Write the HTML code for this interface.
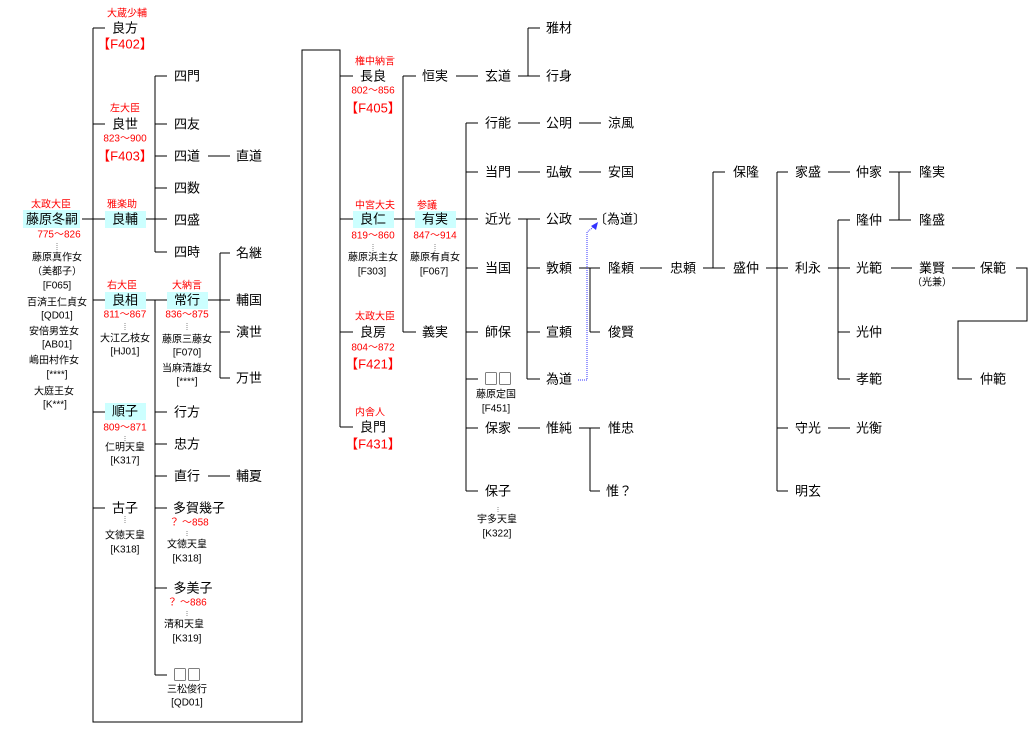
<!DOCTYPE html>
<html><head><meta charset="utf-8"><style>
html,body{margin:0;padding:0;background:#fff;}
svg{display:block;}
text{font-family:"Liberation Sans","Noto Sans CJK JP",sans-serif;text-anchor:middle;dominant-baseline:central;}
.n{font-size:13px;fill:#000;}
.r{font-size:10px;fill:#f00;}
.f{font-size:13px;fill:#f00;}
.s{font-size:10px;fill:#000;}
.b{font-family:"Noto Sans CJK JP",sans-serif;font-size:14px;fill:#000;}
</style></head><body>
<svg width="1030" height="749" viewBox="0 0 1030 749" xmlns="http://www.w3.org/2000/svg">
<g fill="#ccffff">
<rect x="23" y="210" width="57" height="18"/>
<rect x="105" y="211" width="41" height="17"/>
<rect x="105" y="292" width="41" height="17"/>
<rect x="167" y="292" width="41" height="17"/>
<rect x="105" y="403" width="41" height="17"/>
<rect x="353" y="211" width="41" height="17"/>
<rect x="415" y="211" width="41" height="17"/>
</g>
<g stroke="#000" stroke-width="1.2" fill="none" shape-rendering="crispEdges">
<path d="M93,28V722H302V50H340V427"/>
<path d="M82,219H105M93,28H105M93,124H105M93,300H105M93,412H105M93,508H105"/>
<path d="M146,219H167M155,76V252M155,76H167M155,124H167M155,156H167M155,188H167M155,252H167"/>
<path d="M208,156H230"/>
<path d="M146,300H167M155,300V675M155,412H167M155,444H167M155,476H167M155,508H167M155,588H167M155,675H167"/>
<path d="M208,300H230M220,253V378M220,253H230M220,332H230M220,378H230"/>
<path d="M208,476H230"/>
<path d="M340,76H353M340,219H353M340,332H353M340,427H353"/>
<path d="M394,219H415M456,219H466M466,123V491M466,123H478M466,172H478M466,219H478M466,268H478M466,332H478M466,379H478M466,428H478M466,491H478"/>
<path d="M403,76V332M403,76H416M403,332H416"/>
<path d="M456,76H478M518,76H540M528,28V76M528,28H540"/>
<path d="M518,123H540M579,123H601M518,172H540M579,172H601"/>
<path d="M518,219H540M527,219V379M527,268H540M527,332H540M527,379H540M579,219H597"/>
<path d="M579,268H600M590,268V332M590,332H600"/>
<path d="M640,268H662M703,268H725M713,172V268M713,172H725"/>
<path d="M766,268H788M777,172V491M777,172H788M777,428H788M777,491H788"/>
<path d="M828,172H850M889,172H899M899,172V220M899,172H911M899,220H911M889,220H899"/>
<path d="M828,268H850M838,220V379M838,220H850M838,332H850M838,379H850"/>
<path d="M891,268H912M952,268H975M1016,268H1027V321H958V379H972"/>
<path d="M828,428H850M518,428H540M579,428H600M590,428V491M590,491H600"/>
</g>
<path d="M578,380H587V232L595,226" stroke="#33f" stroke-width="1" stroke-dasharray="1,1" fill="none"/>
<polygon points="598,222 591,226 596,230" fill="#33f"/>
<g stroke="#888" stroke-width="1" stroke-dasharray="1,1">
<path d="M57,243V250M125,323V330M187,323V330M125,436V441M125,516V524M187,531V537M187,611V617M373,244V251M435,244V251M498,507V513"/>
</g>
<text class="r" x="51" y="205">太政大臣</text>
<text class="n" x="52" y="219">藤原冬嗣</text>
<text class="r" x="59" y="235">775～826</text>
<text class="s" x="57" y="258">藤原真作女</text>
<text class="s" x="57" y="272">（美都子）</text>
<text class="s" x="57" y="286">[F065]</text>
<text class="s" x="57" y="303">百済王仁貞女</text>
<text class="s" x="57" y="316">[QD01]</text>
<text class="s" x="54" y="332">安倍男笠女</text>
<text class="s" x="57" y="345">[AB01]</text>
<text class="s" x="54" y="361">嶋田村作女</text>
<text class="s" x="57" y="375">[****]</text>
<text class="s" x="54" y="392">大庭王女</text>
<text class="s" x="55" y="405">[K***]</text>
<text class="r" x="127" y="14">大蔵少輔</text>
<text class="n" x="125" y="28">良方</text>
<text class="f" x="125" y="44">【F402】</text>
<text class="r" x="125" y="109">左大臣</text>
<text class="n" x="125" y="124">良世</text>
<text class="r" x="125" y="139">823～900</text>
<text class="f" x="125" y="156">【F403】</text>
<text class="r" x="122" y="205">雅楽助</text>
<text class="n" x="125" y="219">良輔</text>
<text class="r" x="122" y="286">右大臣</text>
<text class="n" x="125" y="300">良相</text>
<text class="r" x="125" y="315">811～867</text>
<text class="s" x="125" y="339">大江乙枝女</text>
<text class="s" x="125" y="352">[HJ01]</text>
<text class="n" x="125" y="411">順子</text>
<text class="r" x="125" y="428">809～871</text>
<text class="s" x="125" y="448">仁明天皇</text>
<text class="s" x="125" y="461">[K317]</text>
<text class="n" x="125" y="508">古子</text>
<text class="s" x="125" y="536">文徳天皇</text>
<text class="s" x="125" y="550">[K318]</text>
<text class="n" x="187" y="76">四門</text>
<text class="n" x="187" y="124">四友</text>
<text class="n" x="187" y="156">四道</text>
<text class="n" x="187" y="188">四数</text>
<text class="n" x="187" y="220">四盛</text>
<text class="n" x="187" y="252">四時</text>
<text class="n" x="249" y="156">直道</text>
<text class="r" x="187" y="286">大納言</text>
<text class="n" x="187" y="300">常行</text>
<text class="r" x="187" y="315">836～875</text>
<text class="s" x="187" y="340">藤原三藤女</text>
<text class="s" x="187" y="353">[F070]</text>
<text class="s" x="187" y="369">当麻清雄女</text>
<text class="s" x="187" y="382">[****]</text>
<text class="n" x="249" y="253">名継</text>
<text class="n" x="249" y="300">輔国</text>
<text class="n" x="249" y="332">演世</text>
<text class="n" x="249" y="378">万世</text>
<text class="n" x="187" y="412">行方</text>
<text class="n" x="187" y="444">忠方</text>
<text class="n" x="187" y="476">直行</text>
<text class="n" x="249" y="476">輔夏</text>
<text class="n" x="199" y="508">多賀幾子</text>
<text class="r" x="189" y="523">？ ～858</text>
<text class="s" x="187" y="545">文徳天皇</text>
<text class="s" x="187" y="559">[K318]</text>
<text class="n" x="193" y="588">多美子</text>
<text class="r" x="187" y="603">？ ～886</text>
<text class="s" x="184" y="625">清和天皇</text>
<text class="s" x="187" y="639">[K319]</text>
<text class="b" x="187" y="675">□□</text>
<text class="s" x="187" y="690">三松俊行</text>
<text class="s" x="187" y="703">[QD01]</text>
<text class="r" x="375" y="62">権中納言</text>
<text class="n" x="373" y="76">長良</text>
<text class="r" x="373" y="91">802～856</text>
<text class="f" x="373" y="108">【F405】</text>
<text class="r" x="375" y="206">中宮大夫</text>
<text class="n" x="373" y="219">良仁</text>
<text class="r" x="373" y="236">819～860</text>
<text class="s" x="373" y="258">藤原浜主女</text>
<text class="s" x="372" y="272">[F303]</text>
<text class="r" x="375" y="317">太政大臣</text>
<text class="n" x="373" y="332">良房</text>
<text class="r" x="373" y="348">804～872</text>
<text class="f" x="373" y="364">【F421】</text>
<text class="r" x="370" y="413">内舎人</text>
<text class="n" x="373" y="427">良門</text>
<text class="f" x="373" y="444">【F431】</text>
<text class="n" x="435" y="76">恒実</text>
<text class="n" x="435" y="332">義実</text>
<text class="r" x="427" y="206">参議</text>
<text class="n" x="435" y="219">有実</text>
<text class="r" x="435" y="236">847～914</text>
<text class="s" x="435" y="258">藤原有貞女</text>
<text class="s" x="434" y="272">[F067]</text>
<text class="n" x="498" y="76">玄道</text>
<text class="n" x="559" y="28">雅材</text>
<text class="n" x="559" y="76">行身</text>
<text class="n" x="498" y="123">行能</text>
<text class="n" x="498" y="172">当門</text>
<text class="n" x="498" y="219">近光</text>
<text class="n" x="498" y="268">当国</text>
<text class="n" x="498" y="332">師保</text>
<text class="b" x="498" y="379">□□</text>
<text class="s" x="496" y="395">藤原定国</text>
<text class="s" x="496" y="409">[F451]</text>
<text class="n" x="498" y="428">保家</text>
<text class="n" x="498" y="491">保子</text>
<text class="s" x="497" y="520">宇多天皇</text>
<text class="s" x="497" y="534">[K322]</text>
<text class="n" x="559" y="123">公明</text>
<text class="n" x="559" y="172">弘敏</text>
<text class="n" x="559" y="219">公政</text>
<text class="n" x="559" y="268">敦頼</text>
<text class="n" x="559" y="332">宣頼</text>
<text class="n" x="559" y="379">為道</text>
<text class="n" x="559" y="428">惟純</text>
<text class="n" x="621" y="123">涼風</text>
<text class="n" x="621" y="172">安国</text>
<text class="n" x="620" y="219">〔為道〕</text>
<text class="n" x="621" y="268">隆頼</text>
<text class="n" x="621" y="332">俊賢</text>
<text class="n" x="621" y="428">惟忠</text>
<text class="n" x="619" y="491">惟？</text>
<text class="n" x="683" y="268">忠頼</text>
<text class="n" x="746" y="172">保隆</text>
<text class="n" x="746" y="268">盛仲</text>
<text class="n" x="808" y="172">家盛</text>
<text class="n" x="808" y="268">利永</text>
<text class="n" x="808" y="428">守光</text>
<text class="n" x="808" y="491">明玄</text>
<text class="n" x="869" y="172">仲家</text>
<text class="n" x="869" y="220">隆仲</text>
<text class="n" x="869" y="268">光範</text>
<text class="n" x="869" y="332">光仲</text>
<text class="n" x="869" y="379">孝範</text>
<text class="n" x="869" y="428">光衡</text>
<text class="n" x="932" y="172">隆実</text>
<text class="n" x="932" y="220">隆盛</text>
<text class="n" x="932" y="268">業賢</text>
<text class="s" x="932" y="283">（光兼）</text>
<text class="n" x="993" y="268">保範</text>
<text class="n" x="993" y="379">仲範</text>
</svg>
</body></html>
